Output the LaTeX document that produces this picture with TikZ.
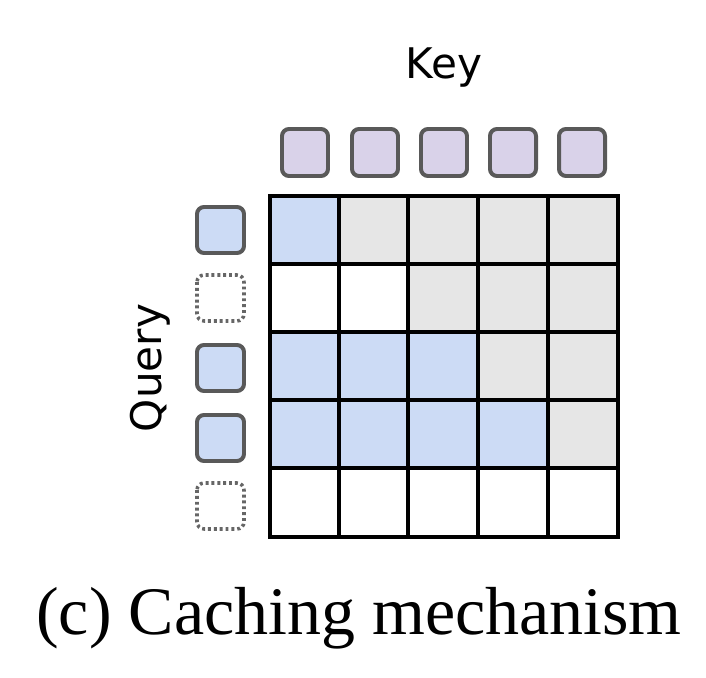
\documentclass[tikz,border=0pt]{standalone}
\usepackage{fontspec}
\setmainfont{Liberation Serif}
\newfontfamily\sansf{DejaVu Sans}
\begin{document}
\begin{tikzpicture}[x=0.03cm,y=-0.03cm,
  tok/.style={draw=black!65,line width=3.4pt,rounded corners=6pt},
  dtok/.style={draw=black!60,line width=3pt,dash pattern=on 2.5pt off 2.5pt,rounded corners=6pt}]
\definecolor{qb}{HTML}{CCDBF5}
\definecolor{gc}{HTML}{E6E6E6}
\definecolor{kp}{HTML}{D9D2E9}
\useasboundingbox (0,0) rectangle (706,678);
\def\xs{{270,339,408,478,548,618}}
\def\ys{{196,264,332,400,468,537}}
\foreach \r/\row in {0/{1,2,2,2,2},1/{0,0,2,2,2},2/{1,1,1,2,2},3/{1,1,1,1,2},4/{0,0,0,0,0}}{
  \foreach \c [count=\ci from 0] in \row {
    \pgfmathsetmacro\xa{\xs[\ci]}\pgfmathsetmacro\xb{\xs[\ci+1]}
    \pgfmathsetmacro\ya{\ys[\r]}\pgfmathsetmacro\yb{\ys[\r+1]}
    \ifcase\c \def\fc{white}\or\def\fc{qb}\or\def\fc{gc}\fi
    \fill[\fc] (\xa,\ya) rectangle (\xb,\yb);
  }
}
\foreach \i in {0,...,5}{
  \pgfmathsetmacro\xx{\xs[\i]}\pgfmathsetmacro\yy{\ys[\i]}
  \draw[line width=3.2pt,line cap=rect] (\xx,196) -- (\xx,537);
  \draw[line width=3.2pt,line cap=rect] (270,\yy) -- (618,\yy);
}
\foreach \x [count=\k] in {305,375,444,513,582}
  \draw[tok,fill=kp] (\x-23,129) rectangle (\x+23,176) node[pos=0.5,name=k\k]{};
\foreach \y/\t [count=\k] in {230/1,298/0,368/1,438/1,506/0}{
  \ifnum\t=1 \draw[tok,fill=qb] (197,\y-23) rectangle (244,\y+23) node[pos=0.5,name=q\k]{};
  \else \draw[dtok] (197,\y-23) rectangle (244,\y+23) node[pos=0.5,name=q\k]{};\fi
}
\node[font=\sansf\fontsize{36}{42}\selectfont] (key) at (444,68) {Key};
\node[font=\sansf\fontsize{36}{42}\selectfont,rotate=90] (query) at (150,368) {Query};
\node[font=\fontsize{58}{66}\selectfont] (cap) at (359,618) {(c) Caching mechanism};
\end{tikzpicture}
\end{document}
